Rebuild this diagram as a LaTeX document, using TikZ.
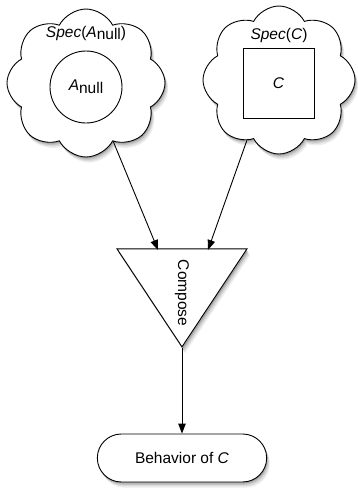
\documentclass[tikz,border=0pt]{standalone}
\usepackage{fontspec}
\setmainfont{Liberation Sans}
\usetikzlibrary{shapes.symbols,shapes.geometric,shapes.misc,arrows.meta,calc}

\tikzset{
  every node/.style={font=\fontsize{15.5}{18}\selectfont},
  bubbleshape/.style={cloud, cloud puffs=8, cloud puff arc=125, cloud ignores aspect,
    inner sep=0pt, shape border rotate=10},
  specbubble/.style={bubbleshape, draw, fill=white, line width=0.9pt},
  composeshape/.style={isosceles triangle, isosceles triangle stretches,
    minimum width=130pt, minimum height=98pt, inner sep=0pt, rotate=-90, anchor=apex},
  resultshape/.style={rounded rectangle, minimum width=176pt, minimum height=48pt},
  shadowlayer/.style={draw=none, fill=black!#1},
  inner/.style={draw, fill=white, line width=0.9pt, inner sep=0pt},
  link/.style={line width=0.9pt, -{Triangle[length=10pt,width=7.5pt]}},
}

\begin{document}
\begin{tikzpicture}[x=1pt, y=-1pt]
  \useasboundingbox (0,0) rectangle (358,491);

  % soft drop shadows: grey copies, farthest and lightest first
  \foreach \k/\g in {4/7,3/14,2/24,1/36} {
    \node[bubbleshape, shadowlayer=\g, minimum width=158pt, minimum height=148pt]
      (specAshadow\k) at (86+0.8*\k, 83+1.4*\k) {};
    \node[bubbleshape, shadowlayer=\g, minimum width=152pt, minimum height=148pt]
      (specCshadow\k) at (279+0.8*\k, 80+1.4*\k) {};
    \node[composeshape, shadowlayer=\g] (composeshadow\k) at (182+0.8*\k, 348+1.4*\k) {};
    \node[resultshape, shadowlayer=\g] (behavshadow\k) at (182+0.8*\k, 458+1.4*\k) {};
  }

  % the two specifications
  \node[specbubble, minimum width=158pt, minimum height=148pt] (specA) at (86,83) {};
  \node[specbubble, minimum width=152pt, minimum height=148pt] (specC) at (279,80) {};

  \node (specAlabel) at (86,33) {\textit{Spec}(\textit{A}\raisebox{-0.35ex}{null})};
  \node (specClabel) at (279,35) {\textit{Spec}(\textit{C})};

  \node[inner, circle, minimum size=72pt] (anull) at (86,87) {\textit{A}\raisebox{-0.35ex}{null}};
  \node[inner, rectangle, minimum width=71pt, minimum height=70pt] (comp) at (278.5,83) {\textit{C}};

  % composition operator
  \node[composeshape, draw, fill=white, line width=0.9pt] (compose) at (182,348) {};
  \node[rotate=-90] (composelabel) at (182,293) {Compose};

  % result
  \node[resultshape, draw, fill=white, line width=0.9pt] (behav) at (182,458) {Behavior of \textit{C}};

  \coordinate (inL) at (158,250);
  \coordinate (inR) at (208,250);

  \draw[link] (specA.-65) -- (inL);
  \draw[link] (specC.-118) -- (inR);
  \draw[link] (compose.apex) -- (behav.north);
\end{tikzpicture}
\end{document}
